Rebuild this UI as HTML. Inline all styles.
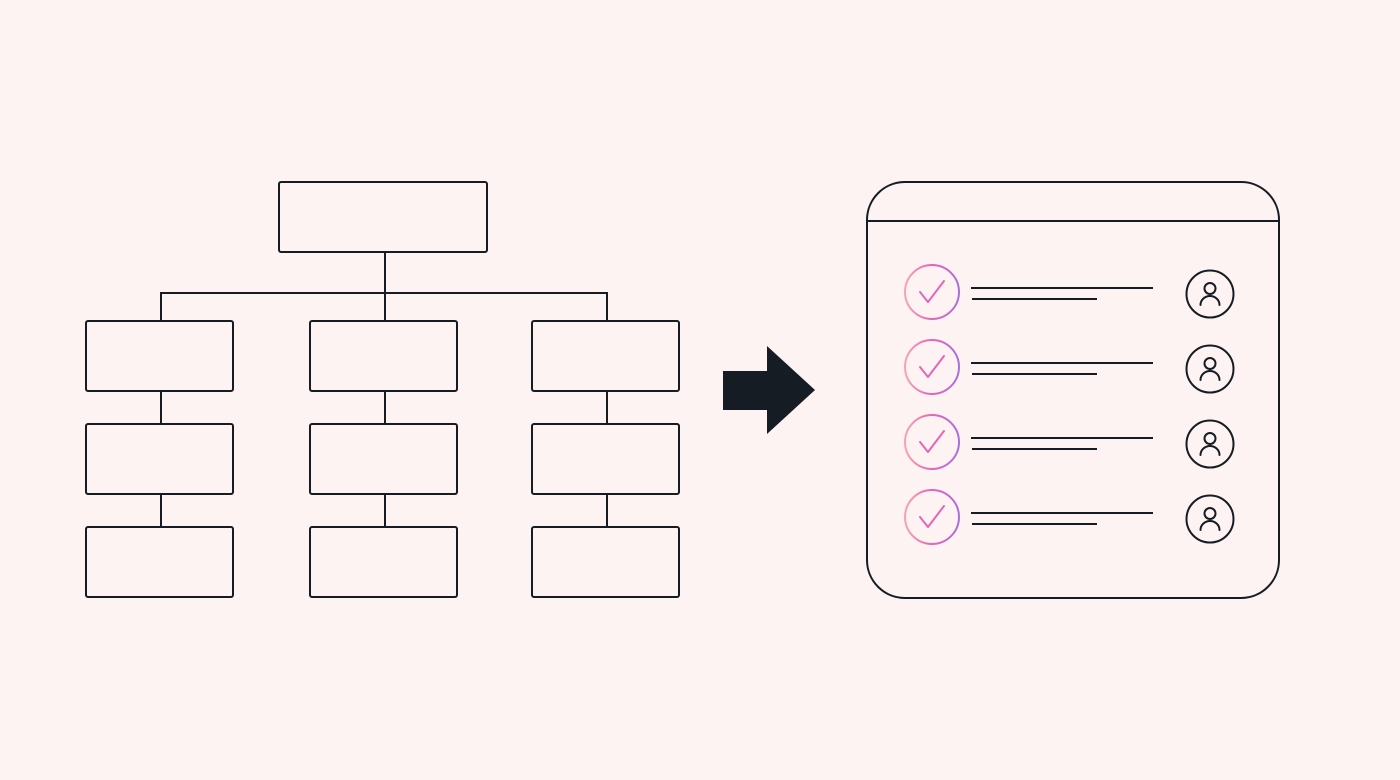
<!DOCTYPE html>
<html><head><meta charset="utf-8"><style>html,body{margin:0;padding:0;background:#fdf3f2;width:1400px;height:780px;overflow:hidden;}svg{display:block;}</style></head>
<body>
<svg width="1400" height="780" viewBox="0 0 1400 780" xmlns="http://www.w3.org/2000/svg">
<defs>
<linearGradient id="g" x1="0" y1="0" x2="1" y2="0">
<stop offset="0" stop-color="#f7a3b4"/><stop offset="0.5" stop-color="#e566b8"/><stop offset="1" stop-color="#a96fe0"/>
</linearGradient>
</defs>
<rect width="1400" height="780" fill="#fdf3f2"/>
<g fill="none" stroke="#161c24" stroke-width="2">
<rect x="279" y="182" width="208" height="70" rx="2"/>
<path d="M385 252V321M161 321V293H607V321"/>
<rect x="86" y="321" width="147" height="70" rx="2"/>
<rect x="310" y="321" width="147" height="70" rx="2"/>
<rect x="532" y="321" width="147" height="70" rx="2"/>
<rect x="86" y="424" width="147" height="70" rx="2"/>
<rect x="310" y="424" width="147" height="70" rx="2"/>
<rect x="532" y="424" width="147" height="70" rx="2"/>
<rect x="86" y="527" width="147" height="70" rx="2"/>
<rect x="310" y="527" width="147" height="70" rx="2"/>
<rect x="532" y="527" width="147" height="70" rx="2"/>
<path d="M161 391V424M161 494V527M385 391V424M385 494V527M607 391V424M607 494V527"/>
<rect x="867" y="182" width="412" height="416" rx="38"/>
<path d="M867 221H1279"/>
</g>
<path d="M723 371H767V346L815 390L767 434V410H723Z" fill="#161c24"/>
<g id="row">
<circle cx="932" cy="292" r="27" fill="none" stroke="url(#g)" stroke-width="2"/>
<path d="M920 292L928 302L944 281" fill="none" stroke="#e566b8" stroke-width="2" stroke-linecap="round" stroke-linejoin="round"/>
<path d="M971 288H1153M972 299H1097" stroke="#161c24" stroke-width="2"/>
<circle cx="1210" cy="294" r="23.5" fill="none" stroke="#161c24" stroke-width="2"/>
<circle cx="1210" cy="288.5" r="5.5" fill="none" stroke="#161c24" stroke-width="2"/>
<path d="M1200.5 305A9.5 9 0 0 1 1219.5 305" fill="none" stroke="#161c24" stroke-width="2" stroke-linecap="round"/>
</g>
<use href="#row" y="75"/>
<use href="#row" y="150"/>
<use href="#row" y="225"/>
</svg>
</body></html>
